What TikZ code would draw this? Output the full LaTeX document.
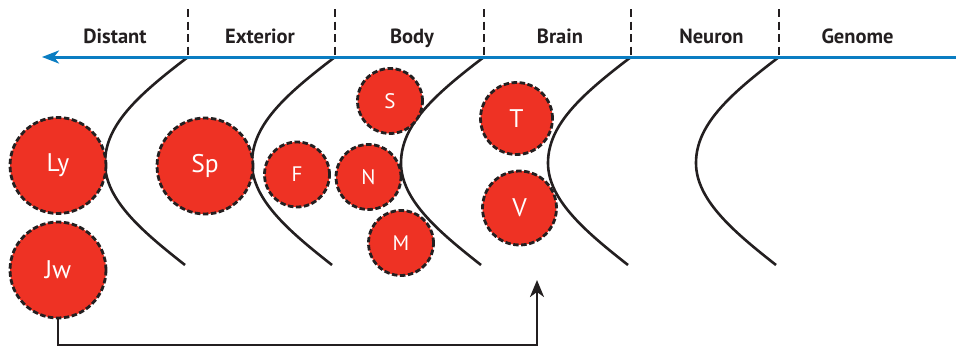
\documentclass[tikz,border=0pt]{standalone}
\usepackage{fontspec}
\setsansfont{PT Sans}
\usetikzlibrary{arrows.meta}
\definecolor{cred}{HTML}{EE3224}
\definecolor{cdark}{HTML}{231F20}
\definecolor{cblue}{HTML}{0A7DC2}
\tikzset{
  bubble/.style={circle, inner sep=0pt, fill=cred, draw=cdark, line width=2.8pt,
    dash pattern=on 5.5pt off 2.5pt, text=white, font=\sffamily\fontsize{21}{21}\selectfont},
  bigtext/.style={font=\sffamily\fontsize{25.5}{25.5}\selectfont},
  header/.style={anchor=base, text=cdark, font=\sffamily\bfseries\fontsize{20.5}{20.5}\selectfont},
  divider/.style={draw=cdark, line width=2.4pt, dash pattern=on 8pt off 4.5pt},
  wave/.style={draw=cdark, line width=2.6pt},
  conn/.style={draw=cdark, line width=2.6pt, -{Stealth[length=17pt,width=14pt,inset=5pt]}},
}
\begin{document}
\begin{tikzpicture}[x=1pt,y=-1pt]
\useasboundingbox (0,0) rectangle (956,348);
% header labels
\node[header] (hDistant) at (115,43) {Distant};
\node[header] (hExterior) at (260,43) {Exterior};
\node[header] (hBody) at (412,43) {Body};
\node[header] (hBrain) at (560,43) {Brain};
\node[header] (hNeuron) at (711.5,43) {Neuron};
\node[header] (hGenome) at (857.5,43) {Genome};
% dividers and waves
\foreach \X in {188,335,484,631,779}{
  \draw[divider] (\X,9) -- (\X,57);
  \draw[wave] (\X,57) .. controls (\X-50,95) and (\X-83,125) .. (\X-83,163)
     .. controls (\X-83,200) and (\X-45,232) .. (\X-3,265);
}
% blue axis
\coordinate (axR) at (956,57);
\coordinate (axL) at (42,57);
\draw[draw=cblue, line width=3pt, -{Stealth[length=17pt,width=13pt,inset=5pt]}] (axR) -- (axL);
% bubbles
\node[bubble, bigtext, minimum size=96pt] (Ly) at (58,165.5) {Ly};
\node[bubble, bigtext, minimum size=96pt] (Jw) at (58,270) {Jw};
\node[bubble, bigtext, minimum size=96pt] (Sp) at (205,166) {Sp};
\node[bubble, minimum size=65pt] (F) at (297,174.5) {F};
\node[bubble, minimum size=65pt] (N) at (368.5,177) {N};
\node[bubble, minimum size=65pt] (M) at (401,243) {M};
\node[bubble, minimum size=65pt] (S) at (390,101) {S};
\node[bubble, bigtext, minimum size=72pt] (T) at (516.5,118.5) {T};
\node[bubble, bigtext, minimum size=74pt] (V) at (519.5,208) {V};
% connector
\coordinate (tip) at (537,280);
\draw[conn] (Jw.south) |- (537,345) -- (tip);
\end{tikzpicture}
\end{document}
